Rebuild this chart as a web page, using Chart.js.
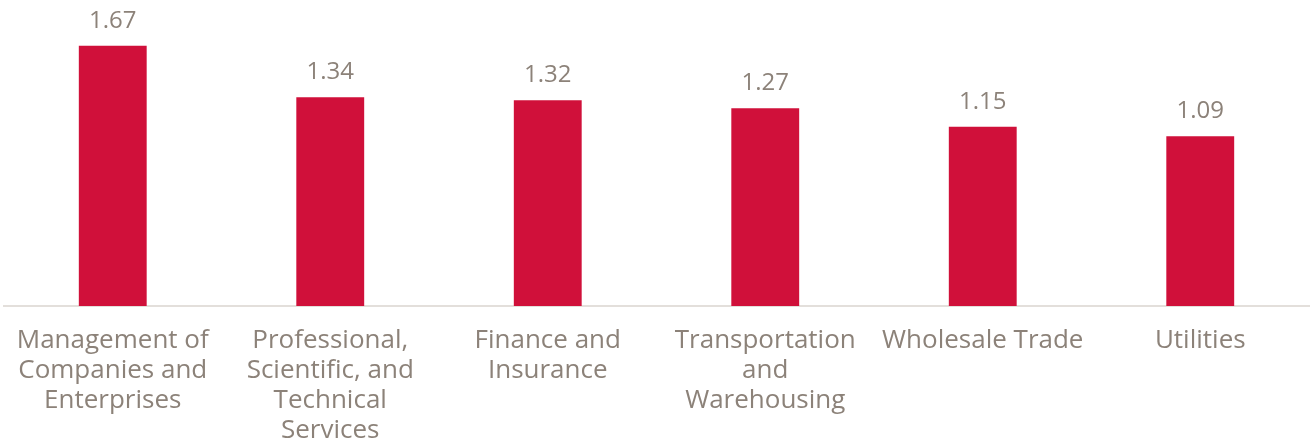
<!DOCTYPE html>
<html>
<head>
<meta charset="utf-8">
<script src="https://cdn.jsdelivr.net/npm/chart.js@4"></script>
<style>
  html, body { margin: 0; padding: 0; background: #fff; }
  #wrap { width: 1311px; height: 442px; }
</style>
</head>
<body>
<div id="wrap"><canvas id="chart"></canvas></div>
<script>
// data
const categories = [
    ["Management of", "Companies and", "Enterprises"],
    ["Professional,", "Scientific, and", "Technical", "Services"],
    ["Finance and", "Insurance"],
    ["Transportation", "and", "Warehousing"],
    ["Wholesale Trade"],
    ["Utilities"]
];
const values = [1.67, 1.34, 1.32, 1.27, 1.15, 1.09];

const barRed = '#D0103A';
const textGrey = '#8C8279';
const fontName = '"Open Sans", sans-serif';

// draws the number above each bar
const valueLabels = {
    id: 'valueLabels',
    afterDatasetsDraw(chart) {
        const ctx = chart.ctx;
        const meta = chart.getDatasetMeta(0);
        ctx.save();
        ctx.fillStyle = textGrey;
        ctx.font = '24px ' + fontName;
        ctx.textAlign = 'center';
        ctx.textBaseline = 'alphabetic';
        meta.data.forEach((bar, i) => {
            ctx.fillText(values[i].toFixed(2), bar.x, bar.y - 18);
        });
        ctx.restore();
    }
};

new Chart(document.getElementById('chart'), {
    type: 'bar',
    data: {
        labels: categories,
        datasets: [{
            data: values,
            backgroundColor: barRed,
            borderWidth: 0,
            barPercentage: 0.52,
            categoryPercentage: 0.6
        }]
    },
    options: {
        responsive: true,
        maintainAspectRatio: false,
        animation: false,
        layout: { padding: { top: 10, left: 4, right: 2, bottom: 0 } },
        plugins: {
            legend: { display: false },
            tooltip: { enabled: false }
        },
        scales: {
            x: {
                grid: { display: false },
                border: { display: true, color: '#E3DFDB', width: 2 },
                ticks: {
                    color: textGrey,
                    font: { family: fontName, size: 26, lineHeight: '30px' },
                    padding: 12,
                    maxRotation: 0,
                    autoSkip: false
                },
                afterFit(scale) { scale.height = 136; }
            },
            y: {
                display: false,
                min: 0,
                max: 1.9
            }
        }
    },
    plugins: [valueLabels]
});
</script>
</body>
</html>
